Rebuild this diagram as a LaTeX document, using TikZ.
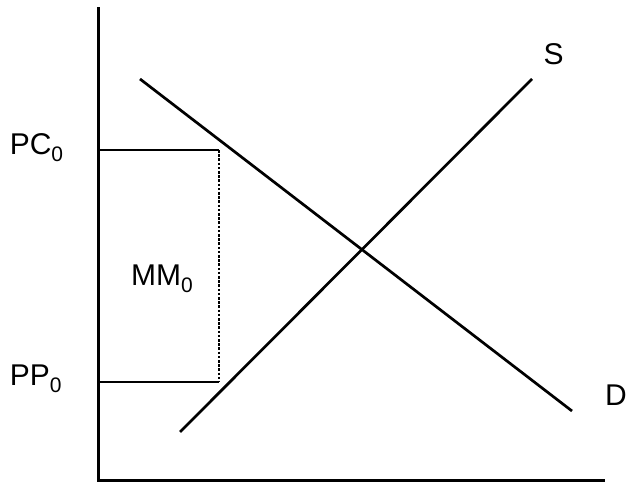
\documentclass[tikz,border=0pt]{standalone}
\usepackage{fontspec}
\setmainfont{Liberation Sans}
\usetikzlibrary{positioning}
\tikzset{
    axis/.style={line width=3pt, line cap=rect},
    curve/.style={line width=2.7pt},
    level/.style={line width=1.1pt},
    gap/.style={line width=2.5pt, dash pattern=on 2.6pt off 1.6pt},
    lbl/.style={font=\fontsize{30}{36}\selectfont, inner sep=0pt, anchor=base west}
}

\begin{document}
\begin{tikzpicture}[x=1pt, y=1pt]
    \useasboundingbox (0,0) rectangle (627,484);

    % --- AXES ---
    \coordinate (origin) at (98,3);
    \coordinate (yTop) at (98,475);
    \coordinate (xEnd) at (603,3);
    \draw[axis] (yTop) -- (origin) -- (xEnd);

    % --- SUPPLY AND DEMAND ---
    \coordinate (dStart) at (140,405);
    \coordinate (dEnd) at (572,73);
    \coordinate (sStart) at (180,52);
    \coordinate (sEnd) at (532,405);
    \draw[curve] (dStart) -- (dEnd);
    \draw[curve] (sStart) -- (sEnd);
    \node[lbl] (sLabel) at (543.5,419) {S};
    \node[lbl] (dLabel) at (605,78) {D};

    % --- PRICE LEVELS ---
    \coordinate (pcAxis) at (98,334);
    \coordinate (pcEnd) at (219,334);
    \coordinate (ppAxis) at (98,102);
    \coordinate (ppEnd) at (219,102);
    \draw[level] (pcAxis) -- (pcEnd);
    \draw[level] (ppAxis) -- (ppEnd);
    \draw[gap] (pcEnd) -- (ppEnd);

    \node[lbl] (pcLabel) at (9.6,329) {PC\textsubscript{0}};
    \node[lbl] (ppLabel) at (9.6,98) {PP\textsubscript{0}};
    \node[lbl] (mmLabel) at (131,198) {MM\textsubscript{0}};
\end{tikzpicture}
\end{document}
